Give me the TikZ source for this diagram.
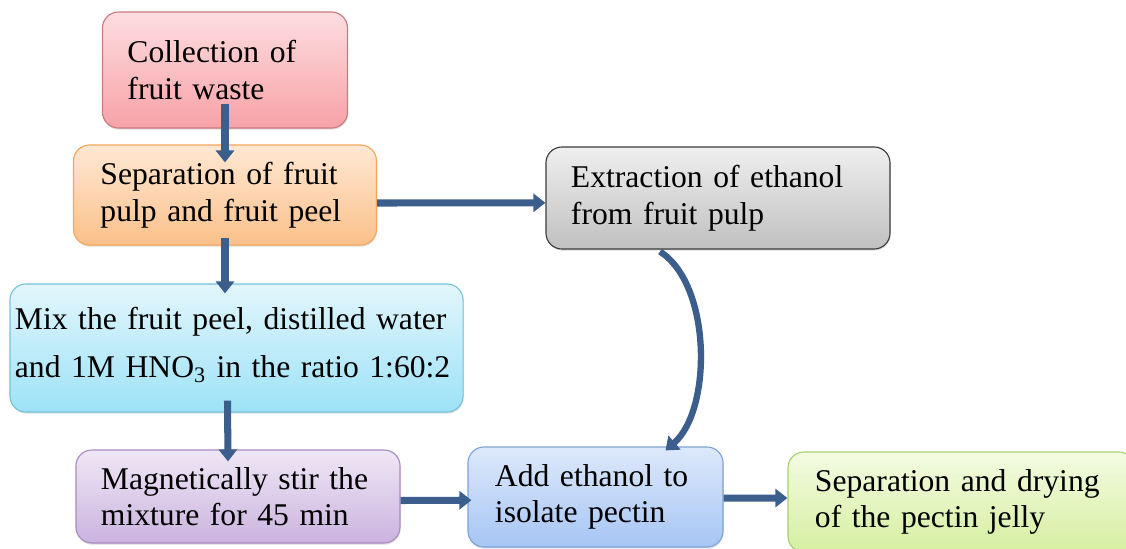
\documentclass[tikz,border=0pt]{standalone}
\usepackage{fontspec}
\setmainfont{Liberation Serif}
\usepackage{xcolor}
\usepackage{tikz}
\usetikzlibrary{arrows.meta,calc,shadows}
\definecolor{flowblue}{HTML}{3B5E8C}
\definecolor{coltop}{HTML}{FDDDE0}
\definecolor{colbot}{HTML}{F7A2A7}
\definecolor{colline}{HTML}{C97B80}
\definecolor{septop}{HTML}{FFE8D3}
\definecolor{sepbot}{HTML}{FAC08A}
\definecolor{sepline}{HTML}{F4A65C}
\definecolor{exttop}{HTML}{EFEFEF}
\definecolor{extbot}{HTML}{C0C0C0}
\definecolor{extline}{HTML}{3C3C3C}
\definecolor{mixtop}{HTML}{E2F6FC}
\definecolor{mixbot}{HTML}{9DE2F7}
\definecolor{mixline}{HTML}{78C2D8}
\definecolor{magtop}{HTML}{EFE7F5}
\definecolor{magbot}{HTML}{CBB3DF}
\definecolor{magline}{HTML}{A98AC3}
\definecolor{addtop}{HTML}{DDE9FB}
\definecolor{addbot}{HTML}{A6C5F4}
\definecolor{addline}{HTML}{7FA3D6}
\definecolor{drytop}{HTML}{F4FBE2}
\definecolor{drybot}{HTML}{D5EFA0}
\definecolor{dryline}{HTML}{A7D06E}

\begin{document}
\begin{tikzpicture}[x=0.025cm,y=-0.025cm,
    box/.style={rounded corners=0.4cm, align=left, inner ysep=0pt, line width=0.8pt,
      font=\fontsize{22.5pt}{26pt}\selectfont,
      drop shadow={opacity=0.25,shadow xshift=0.4pt,shadow yshift=-1.2pt}},
    flow/.style={draw=flowblue, line width=5pt, -{Triangle[length=0.3cm,width=0.45cm]}}]
    \useasboundingbox (0,0) rectangle (1126,548);
    % boxes
    \node[box, draw=colline, top color=coltop, bottom color=colbot, inner xsep=0.625cm, text width=4.875cm, minimum height=2.9cm] (col) at (225,70) {Collection of\\fruit waste};
    \node[box, draw=sepline, top color=septop, bottom color=sepbot, inner xsep=0.675cm, text width=6.225cm, minimum height=2.5cm] (sep) at (225,195) {Separation of fruit\\pulp and fruit peel};
    \node[box, draw=extline, top color=exttop, bottom color=extbot, inner xsep=0.625cm, text width=7.35cm, minimum height=2.55cm] (ext) at (718,198) {Extraction of ethanol\\from fruit pulp};
    \node[box, draw=mixline, top color=mixtop, bottom color=mixbot, inner xsep=0.125cm, text width=11.075cm, minimum height=3.2cm] (mix) at (236.5,348) {Mix the fruit peel, distilled water\\[8pt]and 1M HNO\textsubscript{3} in the ratio 1:60:2\rule[-8pt]{0pt}{8pt}};
    \node[box, draw=magline, top color=magtop, bottom color=magbot, inner xsep=0.625cm, text width=6.85cm, minimum height=2.325cm] (mag) at (238,496.5) {Magnetically stir the\\mixture for 45 min};
    \node[box, draw=addline, top color=addtop, bottom color=addbot, inner xsep=0.675cm, text width=5.025cm, minimum height=2.5cm] (add) at (595.5,497) {Add ethanol to\\isolate pectin};
    \node[box, draw=dryline, top color=drytop, bottom color=drybot, inner xsep=0.675cm, text width=7.325cm, minimum height=2.5cm] (dry) at (961.5,502) {Separation and drying\\of the pectin jelly};
    % arrows
    \draw[flow] ([yshift=0.62cm]col.south) -- ([yshift=-0.45cm]sep.north);
    \draw[flow] ([yshift=0.18cm]sep.south) -- ($(sep.south|-mix.north)+(0,10)$);
    \draw[flow] ([yshift=-0.2cm]sep.east) -- ([yshift=-0.12cm]ext.west);
    \draw[flow] ($(mix.south)+(-9,-12)$) -- ($(mag.north)+(-10,12)$);
    \draw[flow] ([yshift=-0.1cm]mag.east) -- ([xshift=0.1cm,yshift=-0.08cm]add.west);
    \draw[flow] ([yshift=-0.03cm]add.east) -- ([yshift=0.1cm]dry.west);
    \draw[flow, line width=4.5pt] ($(ext.south)+(-58,2)$) .. controls (712,285) and (712,410) .. ($(add.north)+(70,4)$);
\end{tikzpicture}
\end{document}
